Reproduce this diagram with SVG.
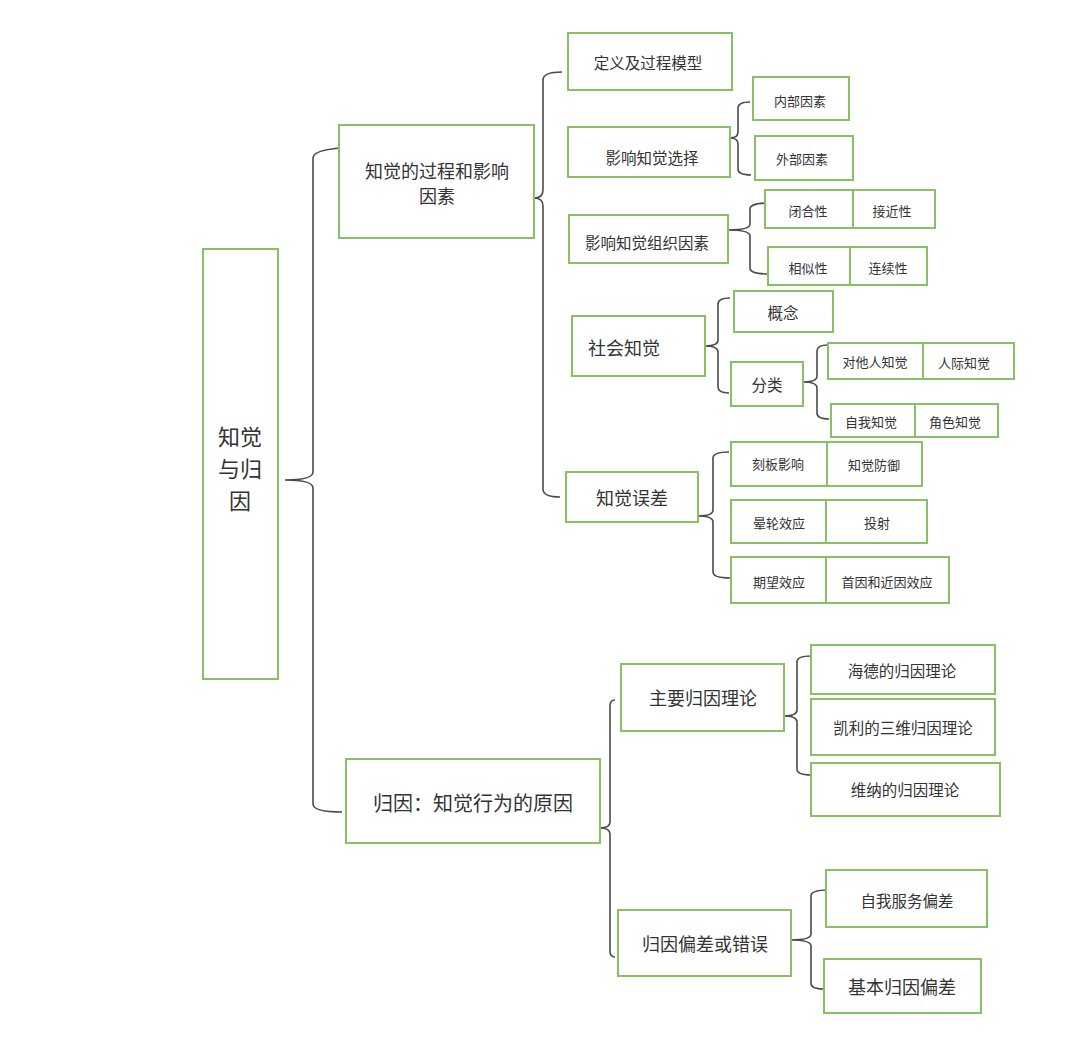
<svg xmlns="http://www.w3.org/2000/svg" width="1078" height="1041" viewBox="0 0 1078 1041">
<style>
.b{fill:#fff;stroke:#88c066;stroke-width:2}
.c{fill:none;stroke:#4a4a4a;stroke-width:1.6}
text{font-family:"Noto Sans CJK SC","Noto Sans",sans-serif;fill:#333;text-anchor:middle;dominant-baseline:central}
.s{font-size:13px}.m{font-size:15.5px}.l{font-size:18px}.x{font-size:20px}.r{font-size:22px}
</style>
<rect width="1078" height="1041" fill="#fff"/>
<g id="connectors">
<path class="c" d="M342,148 Q313,150 313,158 V472 Q313,480 285,480 Q313,480 313,488 V804 Q313,812 342,812"/>
<path class="c" d="M562,72 Q543,72 543,80 V190 Q543,198 534,198 Q543,198 543,206 V489 Q543,497 560,497"/>
<path class="c" d="M750,102 Q738,102 738,108 V132 Q738,138 730,138 Q738,138 738,144 V169 Q738,175 751,175"/>
<path class="c" d="M770,203 Q750,203 750,209 V224 Q750,230 728,230 Q750,230 750,236 V268 Q750,274 768,274"/>
<path class="c" d="M730,298 Q718,298 718,304 V340 Q718,346 705,346 Q718,346 718,352 V387 Q718,393 729,393"/>
<path class="c" d="M828,345 Q817,345 817,351 V376 Q817,382 803,382 Q817,382 817,388 V413 Q817,419 829,419"/>
<path class="c" d="M729,452 Q713,452 713,458 V510 Q713,516 698,516 Q713,516 713,522 V572 Q713,578 730,578"/>
<path class="c" d="M615,700 Q610,700 610,706 V822 Q610,828 600,828 Q610,828 610,834 V951 Q610,957 615,957"/>
<path class="c" d="M811,656 Q797,656 797,662 V710 Q797,716 784,716 Q797,716 797,722 V769 Q797,775 811,775"/>
<path class="c" d="M828,890 Q811,890 811,896 V934 Q811,940 791,940 Q811,940 811,946 V983 Q811,989 823,989"/>
</g>
<g id="root"><rect class="b" x="203" y="249" width="75" height="430"/>
<text class="r" x="240" y="435">知觉</text><text class="r" x="240" y="467">与归</text><text class="r" x="240" y="499">因</text></g>
<g id="n1"><rect class="b" x="339" y="125" width="195" height="113"/>
<text class="l" x="437" y="170">知觉的过程和影响</text><text class="l" x="437" y="195">因素</text></g>
<g id="n1a"><rect class="b" x="568" y="33" width="164" height="57"/><text class="m" x="648" y="62">定义及过程模型</text></g>
<g id="n1b"><rect class="b" x="568" y="127" width="162" height="50"/><text class="m" x="652" y="157">影响知觉选择</text></g>
<g id="n1b1"><rect class="b" x="753" y="77" width="96" height="43"/><text class="s" x="800" y="100">内部因素</text></g>
<g id="n1b2"><rect class="b" x="755" y="136" width="98" height="44"/><text class="s" x="802" y="158">外部因素</text></g>
<g id="n1c"><rect class="b" x="569" y="215" width="159" height="48"/><text class="m" x="647" y="242">影响知觉组织因素</text></g>
<g id="n1c1"><rect class="b" x="765" y="190" width="88" height="38"/><rect class="b" x="853" y="190" width="82" height="38"/>
<text class="s" x="808" y="210">闭合性</text><text class="s" x="892" y="210">接近性</text></g>
<g id="n1c2"><rect class="b" x="768" y="247" width="82" height="38"/><rect class="b" x="850" y="247" width="77" height="38"/>
<text class="s" x="808" y="267">相似性</text><text class="s" x="888" y="267">连续性</text></g>
<g id="n1d"><rect class="b" x="572" y="316" width="133" height="60"/><text class="l" x="624" y="347">社会知觉</text></g>
<g id="n1d1"><rect class="b" x="734" y="291" width="99" height="41"/><text class="m" x="783" y="312">概念</text></g>
<g id="n1d2"><rect class="b" x="731" y="362" width="72" height="44"/><text class="m" x="767" y="384">分类</text></g>
<g id="n1d2a"><rect class="b" x="828" y="343" width="95" height="36"/><rect class="b" x="923" y="343" width="91" height="36"/>
<text class="s" x="875" y="361">对他人知觉</text><text class="s" x="964" y="362">人际知觉</text></g>
<g id="n1d2b"><rect class="b" x="831" y="404" width="84" height="33"/><rect class="b" x="915" y="404" width="83" height="33"/>
<text class="s" x="871" y="421">自我知觉</text><text class="s" x="955" y="421">角色知觉</text></g>
<g id="n1e"><rect class="b" x="566" y="472" width="132" height="50"/><text class="l" x="632" y="497">知觉误差</text></g>
<g id="n1e1"><rect class="b" x="731" y="442" width="96" height="44"/><rect class="b" x="827" y="442" width="95" height="44"/>
<text class="s" x="778" y="463">刻板影响</text><text class="s" x="874" y="464">知觉防御</text></g>
<g id="n1e2"><rect class="b" x="731" y="500" width="95" height="43"/><rect class="b" x="826" y="500" width="101" height="43"/>
<text class="s" x="779" y="522">晕轮效应</text><text class="s" x="877" y="522">投射</text></g>
<g id="n1e3"><rect class="b" x="731" y="557" width="95" height="46"/><rect class="b" x="826" y="557" width="123" height="46"/>
<text class="s" x="779" y="581">期望效应</text><text class="s" x="887" y="581">首因和近因效应</text></g>
<g id="n2"><rect class="b" x="346" y="759" width="254" height="84"/><text class="x" x="473" y="802">归因：知觉行为的原因</text></g>
<g id="n2a"><rect class="b" x="621" y="664" width="163" height="67"/><text class="l" x="703" y="697">主要归因理论</text></g>
<g id="n2a1"><rect class="b" x="811" y="645" width="184" height="49"/><text class="m" x="902" y="670">海德的归因理论</text></g>
<g id="n2a2"><rect class="b" x="811" y="699" width="184" height="56"/><text class="m" x="903" y="727">凯利的三维归因理论</text></g>
<g id="n2a3"><rect class="b" x="811" y="763" width="189" height="53"/><text class="m" x="905" y="789">维纳的归因理论</text></g>
<g id="n2b"><rect class="b" x="618" y="910" width="173" height="66"/><text class="l" x="705" y="943">归因偏差或错误</text></g>
<g id="n2b1"><rect class="b" x="826" y="870" width="161" height="57"/><text class="m" x="907" y="900">自我服务偏差</text></g>
<g id="n2b2"><rect class="b" x="824" y="959" width="157" height="54"/><text class="l" x="902" y="986">基本归因偏差</text></g>
</svg>
